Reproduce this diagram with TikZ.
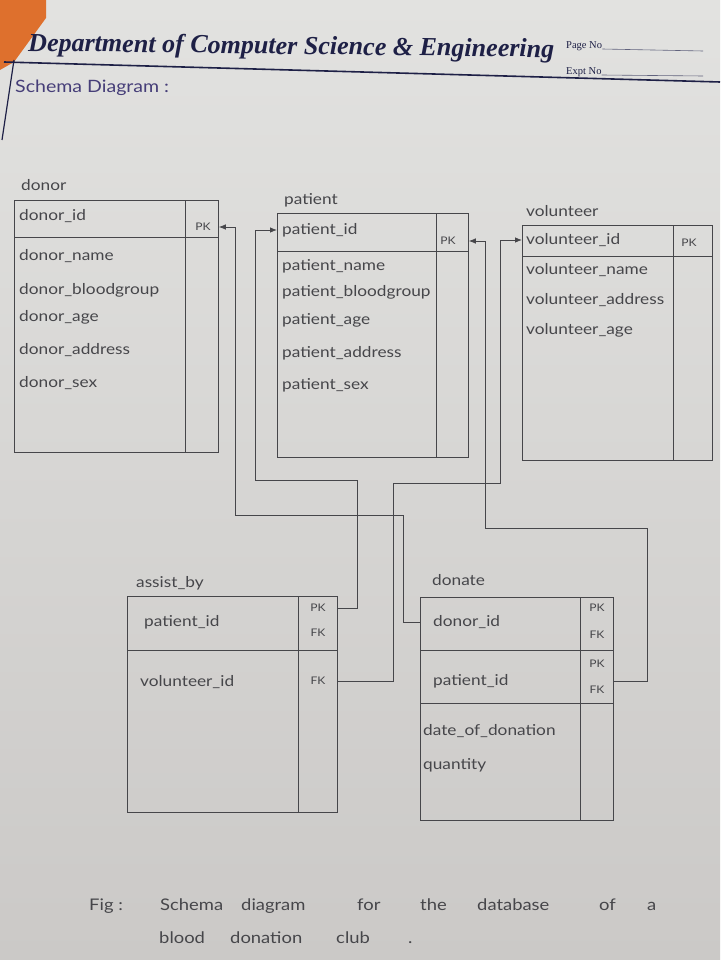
\documentclass[tikz,border=0pt]{standalone}
\usepackage{fontspec}
\setmainfont{Liberation Serif}
\newfontfamily\hand[FakeStretch=1.15]{Lato}
\usetikzlibrary{arrows.meta}
\definecolor{papertop}{RGB}{226,226,224}
\definecolor{paperbot}{RGB}{203,201,199}
\definecolor{pencil}{RGB}{70,70,74}
\definecolor{ink}{RGB}{30,32,70}
\definecolor{pen}{RGB}{70,62,120}
\definecolor{orangec}{RGB}{222,112,45}
\begin{document}
\begin{tikzpicture}[x=1pt,y=-1pt,
  tbox/.style={draw=pencil, line width=0.8pt, inner sep=0pt, anchor=north west},
  pline/.style={draw=pencil, line width=0.8pt},
  field/.style={anchor=west, inner sep=0pt, text=pencil, font=\hand\fontsize{15}{17}\selectfont},
  ttitle/.style={anchor=west, inner sep=0pt, text=pencil, font=\hand\fontsize{15}{17}\selectfont},
  key/.style={inner sep=0pt, text=pencil, font=\hand\fontsize{10.5}{12}\selectfont},
  conn/.style={draw=pencil, line width=0.8pt, -{Latex[length=7pt,width=5.5pt]}},
  capw/.style={anchor=base west, inner sep=0pt, text=pencil, font=\hand\fontsize{16}{18}\selectfont}]
% paper
\shade[top color=papertop, bottom color=paperbot] (0,0) rectangle (720,960);
\useasboundingbox (0,0) rectangle (720,960);
\fill[orangec] (0,0) -- (46,0) -- (46,18) -- (14,62) -- (0,70) -- cycle;
% header
\node[anchor=base west, inner sep=0pt, text=ink, rotate=-0.7] (hdr) at (28,51)
  {\resizebox{526pt}{!}{\bfseries\itshape Department of Computer Science \& Engineering}};
\node[anchor=base west, inner sep=0pt, text=ink, font=\fontsize{10.5}{12}\selectfont] (pageno) at (566,49) {Page No};
\node[anchor=base west, inner sep=0pt, text=ink, font=\fontsize{10.5}{12}\selectfont] (exptno) at (566,75) {Expt No};
\draw[ink!70, line width=0.6pt] (pageno.base east) -- (703,51);
\draw[ink!70, line width=0.6pt] (exptno.base east) -- (703,76);
\draw[ink, line width=1.6pt] (4,62) -- (720,82);
\draw[ink, line width=1.2pt] (14,60) -- (2,140);
\node[anchor=west, inner sep=0pt, text=pen, font=\hand\fontsize{17}{19}\selectfont] (schema) at (15,88) {Schema Diagram :};
% ---------- donor ----------
\node[ttitle] (donor-t) at (21,185) {donor};
\node[tbox, minimum width=204pt, minimum height=252pt] (donor) at (14,200) {};
\draw[pline] ([yshift=-37pt]donor.north west) -- ([yshift=-37pt]donor.north east);
\draw[pline] ([xshift=-33pt]donor.north east) -- ([xshift=-33pt]donor.south east);
\node[field] (dn-id) at (19,216) {donor\_id};
\node[field] (dn-name) at (19,256) {donor\_name};
\node[field] (dn-bg) at (19,290) {donor\_bloodgroup};
\node[field] (dn-age) at (19,317) {donor\_age};
\node[field] (dn-addr) at (19,350) {donor\_address};
\node[field] (dn-sex) at (19,383) {donor\_sex};
\node[key] (dn-pk) at (203,227) {PK};
% ---------- patient ----------
\node[ttitle] (patient-t) at (284,200) {patient};
\node[tbox, minimum width=191pt, minimum height=244pt] (patient) at (277,213) {};
\draw[pline] ([yshift=-38pt]patient.north west) -- ([yshift=-38pt]patient.north east);
\draw[pline] ([xshift=-32pt]patient.north east) -- ([xshift=-32pt]patient.south east);
\node[field] (pa-id) at (282,230) {patient\_id};
\node[field] (pa-name) at (282,266) {patient\_name};
\node[field] (pa-bg) at (282,292) {patient\_bloodgroup};
\node[field] (pa-age) at (282,320) {patient\_age};
\node[field] (pa-addr) at (282,353) {patient\_address};
\node[field] (pa-sex) at (282,385) {patient\_sex};
\node[key] (pa-pk) at (448,241) {PK};
% ---------- volunteer ----------
\node[ttitle] (vol-t) at (526,211) {volunteer};
\node[tbox, minimum width=190pt, minimum height=235pt] (volunteer) at (522,225) {};
\draw[pline] ([yshift=-31pt]volunteer.north west) -- ([yshift=-31pt]volunteer.north east);
\draw[pline] ([xshift=-39pt]volunteer.north east) -- ([xshift=-39pt]volunteer.south east);
\node[field] (vo-id) at (526,240) {volunteer\_id};
\node[field] (vo-name) at (526,270) {volunteer\_name};
\node[field] (vo-addr) at (526,300) {volunteer\_address};
\node[field] (vo-age) at (526,330) {volunteer\_age};
\node[key] (vo-pk) at (689,243) {PK};
% ---------- assist_by ----------
\node[ttitle] (as-t) at (136,583) {assist\_by};
\node[tbox, minimum width=210pt, minimum height=216pt] (assist) at (127,596) {};
\draw[pline] ([yshift=-54pt]assist.north west) -- ([yshift=-54pt]assist.north east);
\draw[pline] ([xshift=-39pt]assist.north east) -- ([xshift=-39pt]assist.south east);
\node[field] (as-pid) at (144,622) {patient\_id};
\node[field] (as-vid) at (140,682) {volunteer\_id};
\node[key] (as-pk) at (318,608) {PK};
\node[key] (as-fk) at (318,633) {FK};
\node[key] (as-vfk) at (318,681) {FK};
% ---------- donate ----------
\node[ttitle] (dt-t) at (432,580) {donate};
\node[tbox, minimum width=193pt, minimum height=223pt] (donate) at (420,597) {};
\draw[pline] ([yshift=-53pt]donate.north west) -- ([yshift=-53pt]donate.north east);
\draw[pline] ([yshift=-106pt]donate.north west) -- ([yshift=-106pt]donate.north east);
\draw[pline] ([xshift=-33pt]donate.north east) -- ([xshift=-33pt]donate.south east);
\node[field] (dt-donor) at (433,622) {donor\_id};
\node[field] (dt-pid) at (433,681) {patient\_id};
\node[field] (dt-date) at (423,731) {date\_of\_donation};
\node[field] (dt-qty) at (423,765) {quantity};
\node[key] (dt-pk1) at (597,608) {PK};
\node[key] (dt-fk1) at (597,635) {FK};
\node[key] (dt-pk2) at (597,664) {PK};
\node[key] (dt-fk2) at (597,690) {FK};
% ---------- connectors ----------
\draw[conn] (donate.west |- dt-donor) -| (403,515) -- (235,515) |- (donor.east |- dn-pk);
\draw[conn] (assist.east |- as-pk) -| (357,480) -- (255,480) |- (patient.west |- pa-id);
\draw[conn] (donate.east |- dt-pid) -| (647,528) -- (485,528) |- (patient.east |- pa-pk);
\draw[conn] (assist.east |- as-vfk) -| (393,483) -- (500,483) |- (volunteer.west |- vo-id);
% ---------- caption ----------
\node[capw] (c-fig) at (89,910) {Fig :};
\node[capw] (c-schema) at (160,910) {Schema};
\node[capw] (c-diagram) at (241,910) {diagram};
\node[capw] (c-for) at (357,910) {for};
\node[capw] (c-the) at (420,910) {the};
\node[capw] (c-database) at (477,910) {database};
\node[capw] (c-of) at (599,910) {of};
\node[capw] (c-a) at (647,910) {a};
\node[capw] (c-blood) at (159,943) {blood};
\node[capw] (c-donation) at (230,943) {donation};
\node[capw] (c-club) at (336,943) {club};
\node[capw] (c-dot) at (408,943) {.};
\end{tikzpicture}
\end{document}
